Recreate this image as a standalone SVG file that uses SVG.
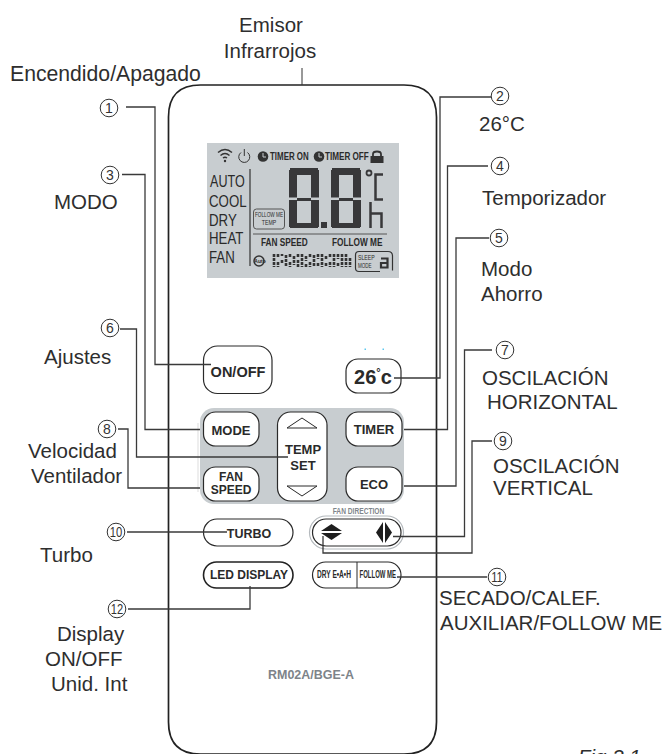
<svg xmlns="http://www.w3.org/2000/svg" width="666" height="754" viewBox="0 0 666 754">
<style>
.l{font-family:"Liberation Sans",Arial,sans-serif;font-size:20.5px;fill:#2e2e2e}
.n{font-family:"Liberation Sans",Arial,sans-serif;font-size:14px;fill:#333;text-anchor:middle}
.b{font-family:"Liberation Sans",Arial,sans-serif;font-weight:bold;fill:#2a2a2a;text-anchor:middle}
.c{font-family:"Liberation Sans",Arial,sans-serif;font-weight:bold;fill:#2a2a2a}
.m{font-family:"Liberation Sans",Arial,sans-serif;font-size:17px;fill:#2a2a2a}
.btn{fill:#fff;stroke:#2a2a2a;stroke-width:1.2}
.ring{fill:#fff;stroke:#333;stroke-width:1}
.w{fill:none;stroke:#3a3a3a;stroke-width:1.3}
.s{fill:#38383a}
.tri{fill:#fff;stroke:#2a2a2a;stroke-width:1}
</style>
<g id="remote">
<path d="M168.500 117Q168.500 85 200.500 85H404Q436.500 85 436.500 117V722Q436.500 754 404 754H200.500Q168.500 754 168.500 722Z" fill="#fff" stroke="#222" stroke-width="1.7"/>
<line x1="302" y1="68" x2="302" y2="85" stroke="#333" stroke-width="1"/>
</g>
<g id="lcd">
<rect x="207" y="143" width="192" height="135" fill="#c8cdd0"/>
<g fill="none" stroke="#333" stroke-width="1.500">
<path d="M218 152.500Q225 146.500 232 152.500"/><path d="M220.500 155.500Q225 151.500 229.500 155.500"/><path d="M223 158Q225 156.500 227 158"/>
<path d="M241 152.500A5.500 5.500 0 1 0 247.500 152.500" stroke-width="1"/><path d="M244.300 149V156" stroke-width="1"/>
</g>
<circle cx="225" cy="161" r="1.200" fill="#333"/>
<circle cx="263" cy="156.500" r="5.300" fill="#333"/><path d="M263 153V157H266" stroke="#c8cdd0" stroke-width="1" fill="none"/>
<text class="c" transform="translate(270,160) scale(.72,1)" font-size="11">TIMER ON</text>
<circle cx="319" cy="156.500" r="5.300" fill="#333"/><path d="M319 153V157H322" stroke="#c8cdd0" stroke-width="1" fill="none"/>
<text class="c" transform="translate(325,160) scale(.74,1)" font-size="11">TIMER OFF</text>
<rect x="370.500" y="156" width="13" height="7" fill="#333"/><path d="M373 156V154Q373 151.500 377 151.500Q381 151.500 381 154V156" fill="none" stroke="#333" stroke-width="1.800"/>
<text class="m" transform="translate(210,187) scale(.74,1)">AUTO</text>
<text class="m" transform="translate(209,207) scale(.78,1)">COOL</text>
<text class="m" transform="translate(209,226) scale(.78,1)">DRY</text>
<text class="m" transform="translate(209,244) scale(.78,1)">HEAT</text>
<text class="m" transform="translate(209,263) scale(.78,1)">FAN</text>
<line x1="250" y1="169" x2="250" y2="266" stroke="#333" stroke-width="1.200"/>
<g id="seg1" class="s">
<rect x="290" y="168" width="28" height="7"/><rect x="297" y="198" width="14" height="3"/><rect x="290" y="223" width="28" height="5"/>
<rect x="289" y="170" width="8" height="27.500"/><rect x="311" y="170" width="8" height="27.500"/><rect x="289" y="200" width="8" height="27"/><rect x="311" y="200" width="8" height="27"/>
</g>
<rect x="321" y="222" width="6" height="6" class="s"/>
<g id="seg2" class="s">
<rect x="332" y="168" width="28" height="7"/><rect x="339" y="198" width="14" height="3"/><rect x="332" y="223" width="28" height="5"/>
<rect x="331" y="170" width="8" height="27.500"/><rect x="353" y="170" width="8" height="27.500"/><rect x="331" y="200" width="8" height="27"/><rect x="353" y="200" width="8" height="27"/>
</g>
<circle cx="369" cy="173" r="2.500" fill="none" stroke="#38383a" stroke-width="1.800"/>
<path d="M383 174.500H375.500V199.500H383M370.500 202V228M370.500 213.500H381.500V228" fill="none" stroke="#38383a" stroke-width="2.500"/>
<line x1="253" y1="234" x2="387" y2="234" stroke="#555" stroke-width="1"/>
<rect x="253.500" y="209" width="31" height="20" rx="3" fill="none" stroke="#555" stroke-width="1"/>
<text class="b" transform="translate(269,216.500) scale(.72,1)" font-size="6.500" style="font-weight:normal">FOLLOW ME</text>
<text class="b" transform="translate(269,225) scale(.8,1)" font-size="6.500" style="font-weight:normal">TEMP</text>
<text class="c" transform="translate(261,246) scale(.75,1)" font-size="11">FAN SPEED</text>
<text class="c" transform="translate(332,246) scale(.75,1)" font-size="11">FOLLOW ME</text>
<circle cx="259" cy="261" r="5" fill="none" stroke="#333" stroke-width="1.500"/>
<text class="b" x="260" y="263" font-size="5">Auto</text>
<path d="M274 254V267M278 254V258M278 262V267M282 254V256M282 260V264M286 255V266M290 254V258M290 262V267M294 256V265M298 254V257M298 260V267M302 254V267M306 256V261M306 264V267M310 254V258M310 262V267M314 255V266M318 254V259M318 263V267M322 254V267M326 256V260M326 263V267M330 254V258M330 262V267M334 254V267M338 254V259M338 263V267M342 254V267M346 254V267M350 258V267" stroke="#333" stroke-width="2.600" stroke-dasharray="3 1" fill="none"/>
<path d="M359 251.500H388Q392.500 251.500 392.500 256V270.500M380 271.500H359Q355.500 271.500 355.500 268V255Q355.500 251.500 359 251.500" fill="none" stroke="#333" stroke-width="1.200"/>
<text class="c" transform="translate(358,260) scale(.8,1)" font-size="6.500" style="font-weight:normal">SLEEP</text>
<text class="c" transform="translate(358,268) scale(.7,1)" font-size="6.500" style="font-weight:normal">MODE</text>
<path d="M381 258.500H387.500V267.500H381V263H387" fill="none" stroke="#333" stroke-width="2.200"/>
</g>
<rect x="364.500" y="348.500" width="1.500" height="1.500" fill="#5bc8ef"/>
<rect x="382.500" y="348.500" width="1.500" height="1.500" fill="#5bc8ef"/>
<g id="panel"><rect x="200" y="408" width="204" height="96" rx="14" fill="#c8cdd0"/><line x1="198" y1="423" x2="198" y2="492" stroke="#ddd" stroke-width="1"/></g>
<g id="btn-onoff"><rect class="btn" x="203.500" y="346" width="68.500" height="47.500" rx="14"/><text class="b" x="238" y="377" font-size="14.500">ON/OFF</text></g>
<g id="btn-26c"><rect class="btn" x="346" y="359" width="55" height="34" rx="12"/><text class="b" x="373" y="384" font-size="20">26<tspan font-size="11" dy="-8">°</tspan><tspan dy="8">c</tspan></text></g>
<g id="btn-mode"><rect class="btn" x="203.500" y="412" width="55.500" height="34" rx="12"/><text class="b" x="231" y="435" font-size="13">MODE</text></g>
<g id="btn-tempset"><rect class="btn" x="277.500" y="412" width="49.500" height="89" rx="13"/>
<path class="tri" d="M287 428L302 418L317 428Z"/><path class="tri" d="M287 486H317L302 496Z"/>
<text class="b" x="303" y="454" font-size="13">TEMP</text><text class="b" x="303" y="469.500" font-size="13">SET</text></g>
<g id="btn-fanspeed"><rect class="btn" x="203.500" y="467" width="55.500" height="34" rx="12"/><text class="b" x="231" y="480.500" font-size="12">FAN</text><text class="b" x="231" y="494" font-size="12">SPEED</text></g>
<g id="btn-timer"><rect class="btn" x="346" y="412" width="56" height="34" rx="12"/><text class="b" x="374" y="434" font-size="13">TIMER</text></g>
<g id="btn-eco"><rect class="btn" x="346" y="467" width="56" height="34" rx="12"/><text class="b" x="374" y="489" font-size="13">ECO</text></g>
<g id="btn-fandirection">
<text class="b" transform="translate(358.500,514) scale(.7,1)" font-size="9.500" style="fill:#7f868c">FAN DIRECTION</text>
<rect x="309.500" y="516" width="94" height="33" rx="16.500" fill="#fff" stroke="#b4b9bd" stroke-width="1.200"/>
<rect class="btn" x="312.500" y="519" width="88.500" height="27" rx="13.500"/>
<path d="M321 531L331.500 524L342 531ZM321 533H342L331.500 540ZM376 532.500L383 522V543ZM385 522V543L392 532.500Z" fill="#1e1e1e"/>
</g>
<g id="btn-turbo"><rect class="btn" x="203.500" y="519" width="89.500" height="27" rx="13.500"/><text class="b" x="249" y="538" font-size="12.500">TURBO</text></g>
<g id="btn-led"><rect x="203.500" y="562" width="89.500" height="26" rx="13" fill="#fff" stroke="#222" stroke-width="1.600"/><text class="b" x="249" y="579" font-size="12">LED DISPLAY</text></g>
<g id="btn-dry"><rect class="btn" x="312.500" y="562" width="88.500" height="26" rx="13"/><line x1="357" y1="562" x2="357" y2="588" stroke="#2a2a2a" stroke-width="1"/>
<text class="c" transform="translate(317,578) scale(.66,1)" font-size="10">DRY E•A•H</text>
<text class="c" transform="translate(359.500,578) scale(.6,1)" font-size="10">FOLLOW ME</text></g>
<g id="model"><text class="b" transform="translate(311,679) scale(.96,1)" font-size="13" style="fill:#7d8389">RM02A/BGE-A</text></g>
<g id="connectors">
<path class="w" d="M126 107H155V364.500H211"/>
<path class="w" d="M122 174.500H145V429.500H200"/>
<path class="w" d="M120 329H136.500V457H288"/>
<path class="w" d="M118 429H128V488H200"/>
<path class="w" d="M127 532H227"/>
<path class="w" d="M128 609H250V586"/>
<path class="w" d="M491 97H440V378H394"/>
<path class="w" d="M488 166H447.500V429.500H404"/>
<path class="w" d="M489 238H456V486H404"/>
<path class="w" d="M492 350H464.500V536.500H393"/>
<path class="w" d="M492 441H472V553H323V536"/>
<path class="w" d="M487 577H397"/>
</g>
<g id="callouts">
<g id="c1"><circle class="ring" cx="109" cy="108" r="8.800"/><text class="n" x="109" y="113">1</text></g>
<g id="c2"><circle class="ring" cx="500" cy="96" r="8.800"/><text class="n" x="500" y="101">2</text></g>
<g id="c3"><circle class="ring" cx="110" cy="175" r="8.800"/><text class="n" x="110" y="180">3</text></g>
<g id="c4"><circle class="ring" cx="500" cy="166" r="8.800"/><text class="n" x="500" y="171">4</text></g>
<g id="c5"><circle class="ring" cx="499" cy="238" r="8.800"/><text class="n" x="499" y="243">5</text></g>
<g id="c6"><circle class="ring" cx="110" cy="328" r="8.800"/><text class="n" x="110" y="333">6</text></g>
<g id="c7"><circle class="ring" cx="505" cy="350" r="8.800"/><text class="n" x="505" y="355">7</text></g>
<g id="c8"><circle class="ring" cx="107" cy="429" r="8.800"/><text class="n" x="107" y="434">8</text></g>
<g id="c9"><circle class="ring" cx="503" cy="441" r="8.800"/><text class="n" x="503" y="446">9</text></g>
<g id="c10"><circle class="ring" cx="116" cy="532" r="8.800"/><text class="n" transform="translate(116,537) scale(.8,1)">10</text></g>
<g id="c11"><circle class="ring" cx="497" cy="577" r="8.800"/><text class="n" transform="translate(497,582) scale(.8,1)">11</text></g>
<g id="c12"><circle class="ring" cx="117" cy="609" r="8.800"/><text class="n" transform="translate(117,614) scale(.8,1)">12</text></g>
</g>
<g id="labels">
<text class="l" x="271" y="32" text-anchor="middle">Emisor</text>
<text class="l" x="270" y="58" text-anchor="middle">Infrarrojos</text>
<text class="l" x="10" y="81" style="font-size:21.200px">Encendido/Apagado</text>
<text class="l" x="54" y="209">MODO</text>
<text class="l" x="44" y="364">Ajustes</text>
<text class="l" x="28" y="458">Velocidad</text>
<text class="l" x="31" y="483">Ventilador</text>
<text class="l" x="40" y="562">Turbo</text>
<text class="l" x="57" y="641">Display</text>
<text class="l" x="45" y="666">ON/OFF</text>
<text class="l" x="51" y="691">Unid. Int</text>
<text class="l" x="479" y="131">26°C</text>
<text class="l" x="482" y="205">Temporizador</text>
<text class="l" x="481" y="276">Modo</text>
<text class="l" x="481" y="301">Ahorro</text>
<text class="l" x="482" y="385">OSCILACIÓN</text>
<text class="l" x="487" y="409">HORIZONTAL</text>
<text class="l" x="493" y="473">OSCILACIÓN</text>
<text class="l" x="493" y="495">VERTICAL</text>
<text class="l" x="439" y="605">SECADO/CALEF.</text>
<text class="l" x="440" y="630">AUXILIAR/FOLLOW ME</text>
<text class="l" x="578" y="764" font-style="italic">Fig 3.1</text>
</g>
</svg>
